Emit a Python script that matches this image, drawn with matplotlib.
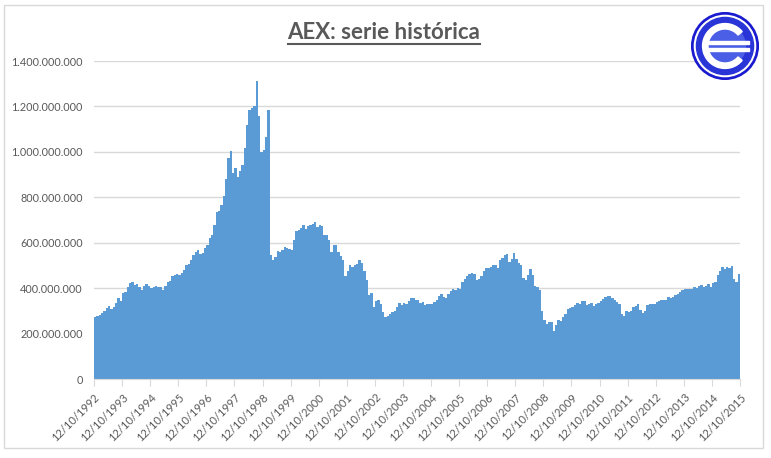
import matplotlib
matplotlib.use("Agg")
import matplotlib.pyplot as plt
import numpy as np
from matplotlib.patches import Circle, Wedge, Rectangle
from matplotlib.ticker import FuncFormatter

plt.rcParams["font.family"] = ["Lato", "DejaVu Sans"]

# monthly values (millions), starting 12/10/1992
values_m = [
    273, 277, 282, 292, 300, 311, 321, 307, 315, 333,
    355, 345, 380, 385, 405, 421, 426, 415, 417, 406,
    392, 410, 418, 408, 402, 405, 410, 406, 405, 390,
    410, 428, 431, 452, 460, 464, 456, 468, 478, 503,
    508, 524, 546, 558, 566, 552, 556, 575, 589, 620,
    632, 680, 735, 740, 765, 805, 880, 975, 1005, 905,
    930, 890, 915, 940, 1015, 1120, 1185, 1195, 1200, 1312,
    1160, 1000, 1010, 1067, 1185, 546, 525, 537, 565, 560,
    570, 580, 575, 572, 570, 610, 650, 655, 666, 680,
    660, 673, 676, 683, 689, 670, 680, 675, 634, 636,
    612, 560, 590, 590, 560, 540, 525, 455, 475, 502,
    495, 500, 505, 524, 510, 475, 435, 368, 380, 318,
    345, 350, 330, 295, 272, 277, 284, 295, 301, 318,
    336, 325, 333, 332, 344, 357, 355, 348, 348, 336,
    340, 325, 328, 330, 332, 340, 348, 364, 374, 363,
    358, 374, 388, 395, 390, 402, 395, 425, 439, 452,
    461, 468, 464, 435, 440, 455, 476, 488, 490, 492,
    500, 502, 490, 526, 534, 546, 552, 516, 528, 553,
    528, 509, 500, 443, 438, 460, 484, 460, 408, 406,
    392, 300, 260, 244, 250, 252, 213, 236, 260, 256,
    272, 288, 308, 312, 316, 325, 335, 330, 345, 345,
    327, 332, 333, 323, 332, 336, 342, 352, 362, 366,
    365, 355, 348, 338, 328, 287, 278, 300, 297, 300,
    318, 323, 330, 305, 292, 300, 324, 332, 330, 332,
    340, 345, 350, 346, 348, 360, 356, 360, 371, 376,
    381, 390, 395, 398, 398, 396, 403, 399, 410, 414,
    404, 410, 418, 403, 423, 428, 456, 476, 495, 486,
    495, 488, 498, 442, 427, 462,
]
years = list(range(1992, 2016))
y_ticks = [0, 200e6, 400e6, 600e6, 800e6, 1000e6, 1200e6, 1400e6]

title = "AEX: serie histórica"
bar_color = "#5B9BD5"
text_color = "#595959"
grid_color = "#D9D9D9"

values = np.array(values_m) * 1e6
edges = np.arange(len(values) + 1)

fig = plt.figure(figsize=(7.71, 4.58), dpi=100)
ax = fig.add_axes([94 / 771, 1 - 379 / 458, 646 / 771, 318 / 458])

ax.stairs(values, edges, fill=True, color=bar_color, linewidth=0)

ax.set_xlim(0, (len(years) - 1) * 12)
ax.set_ylim(0, 1400e6)

ax.set_yticks(y_ticks)
ax.yaxis.set_major_formatter(
    FuncFormatter(lambda v, _: f"{int(v):,}".replace(",", "."))
)
ax.yaxis.grid(True, color=grid_color, linewidth=1)
ax.set_axisbelow(True)

ax.set_xticks([i * 12 for i in range(len(years))])
ax.set_xticklabels(
    [f"12/10/{y}" for y in years],
    rotation=45,
    ha="right",
    va="top",
    rotation_mode="anchor",
)

for side in ["top", "right", "left"]:
    ax.spines[side].set_visible(False)
ax.spines["bottom"].set_color(grid_color)

ax.tick_params(axis="y", length=0, pad=8, labelsize=7.8, labelcolor=text_color)
ax.tick_params(
    axis="x", length=5, color=grid_color, pad=4,
    labelsize=8, labelcolor=text_color,
)

# chart border
fig.add_artist(
    Rectangle(
        (4 / 771, 1 - 448 / 458), 759 / 771, 443 / 458,
        transform=fig.transFigure, fill=False,
        edgecolor=grid_color, linewidth=1,
    )
)

# title with underline
title_text = fig.text(
    384 / 771, 1 - 39 / 458, title,
    ha="center", va="baseline",
    fontsize=16, fontweight="bold", color=text_color,
)
fig.canvas.draw()
bbox = title_text.get_window_extent().transformed(fig.transFigure.inverted())
underline_y = 1 - 44 / 458
fig.add_artist(
    plt.Line2D(
        [bbox.x0, bbox.x1], [underline_y, underline_y],
        transform=fig.transFigure, color=text_color, linewidth=1.5,
    )
)

# logo
logo = fig.add_axes([691 / 771, 1 - 80 / 458, 68 / 771, 68 / 458])
logo.set_xlim(-1, 1)
logo.set_ylim(-1, 1)
logo.set_aspect("equal")
logo.axis("off")
logo.add_patch(Circle((0, 0), 0.98, color="#1A1ACF"))
logo.add_patch(Circle((0, 0), 0.90, color="white"))
logo.add_patch(Circle((0, 0), 0.84, color="#2A35D8"))
logo.add_patch(Circle((0, 0), 0.60, color="#4A5FE6"))
logo.add_patch(Wedge((0, 0), 0.66, 40, 320, width=0.16, color="white"))
logo.add_patch(Rectangle((-0.50, 0.05), 1.22, 0.09, color="white"))
logo.add_patch(Rectangle((-0.50, -0.14), 1.22, 0.09, color="white"))

fig.savefig("out.png", dpi=100)
